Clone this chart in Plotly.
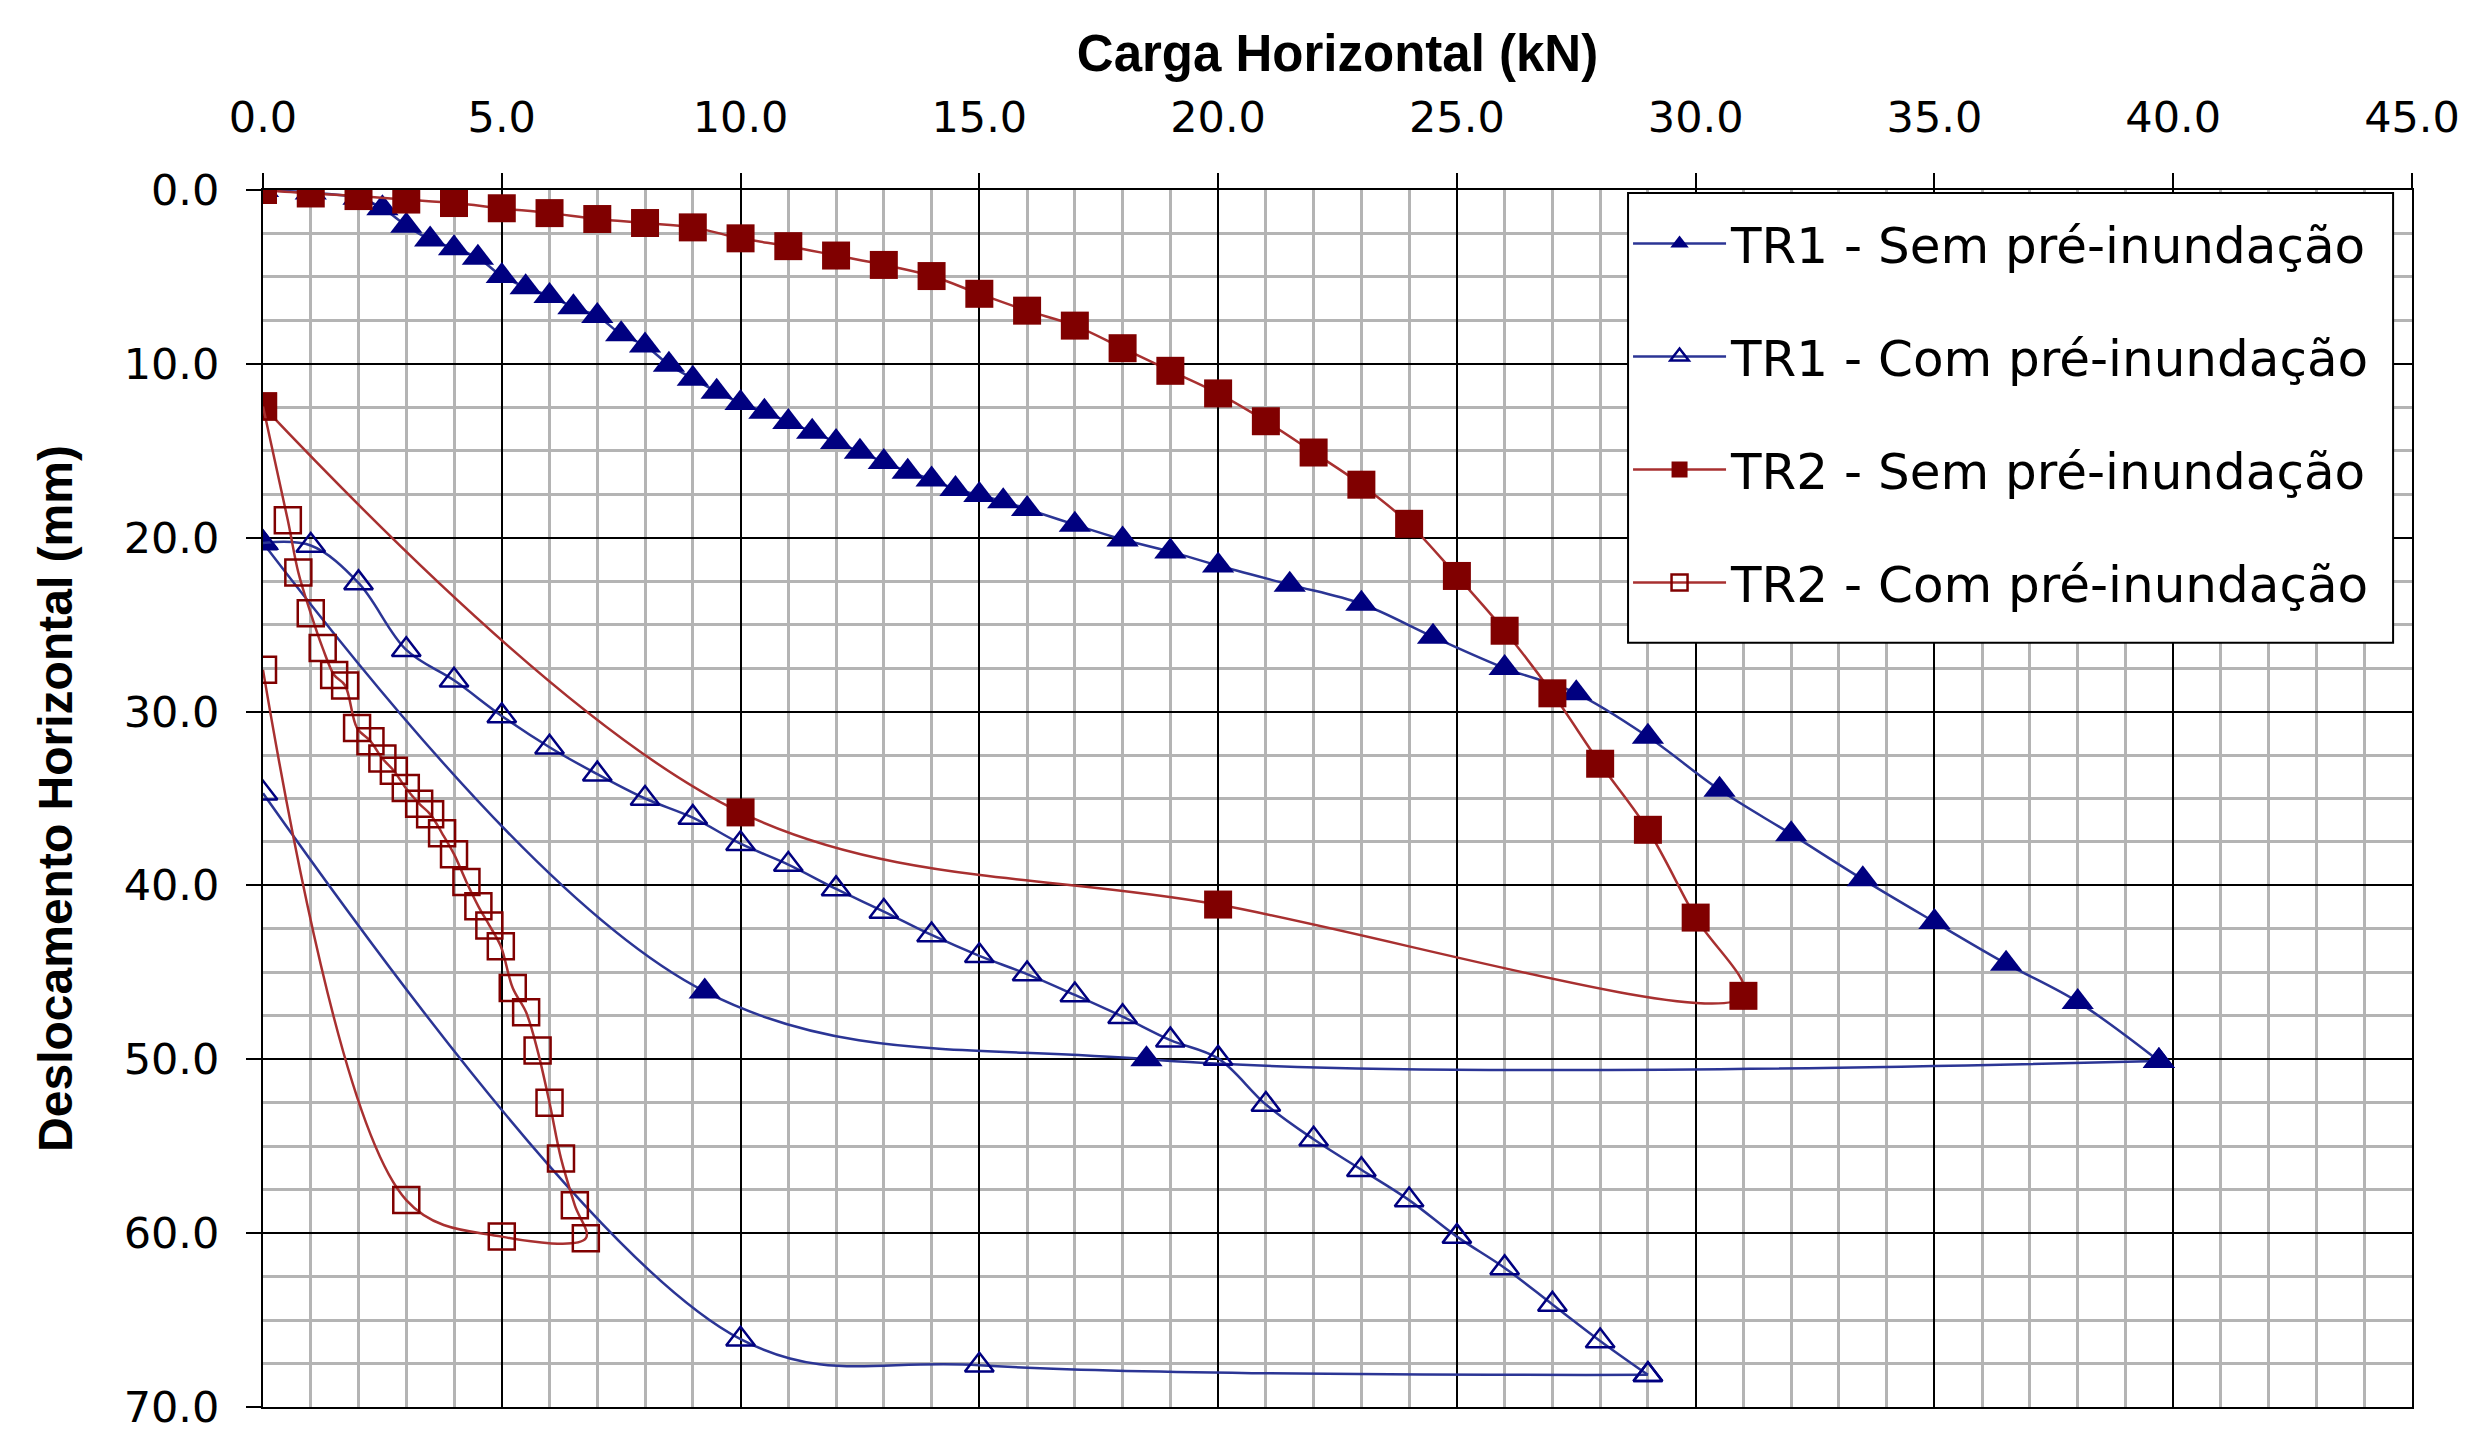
import plotly.graph_objects as go

# ---------------- data ----------------
tr1_sem_x = [0, 1, 2, 2.5, 3, 3.5, 4, 4.5, 5, 5.5, 6, 6.5, 7, 7.5, 8, 8.5, 9, 9.5, 10,
             10.5, 11, 11.5, 12, 12.5, 13, 13.5, 14, 14.5, 15, 15.5, 16, 17, 18, 19, 20,
             21.5, 23, 24.5, 26, 27.5, 29, 30.5, 32, 33.5, 35, 36.5, 38, 39.7,
             18.5, 9.25, 0]
tr1_sem_y = [0, 0.15, 0.45, 1.05, 2.05, 2.85, 3.35, 3.9, 4.95, 5.6, 6.1, 6.75, 7.25, 8.3, 8.95, 10.05, 10.85, 11.6, 12.25,
             12.75, 13.35, 13.9, 14.5, 15.05, 15.65, 16.2, 16.65, 17.2, 17.55, 17.9, 18.35, 19.25, 20.1, 20.8, 21.6,
             22.7, 23.8, 25.7, 27.5, 28.95, 31.45, 34.5, 37.05, 39.65, 42.1, 44.5, 46.7, 50.1,
             50.0, 46.1, 20.3]

tr1_com_x = [0, 1, 2, 3, 4, 5, 6, 7, 8, 9, 10, 11, 12, 13, 14, 15, 16, 17, 18, 19, 20,
             21, 22, 23, 24, 25, 26, 27, 28, 29, 15, 10, 0]
tr1_com_y = [20.3, 20.45, 22.6, 26.45, 28.2, 30.25, 32.05, 33.6, 35.0, 36.1, 37.6, 38.8, 40.2, 41.5, 42.85,
             44.05, 45.1, 46.3, 47.55, 48.9, 49.95, 52.6, 54.6, 56.35, 58.1, 60.2, 62.0, 64.1, 66.2, 68.15,
             67.6, 66.1, 34.7]

tr2_sem_x = [0, 1, 2, 3, 4, 5, 6, 7, 8, 9, 10, 11, 12, 13, 14, 15, 16, 17, 18, 19, 20,
             21, 22, 23, 24, 25, 26, 27, 28, 29, 30, 31, 20, 10, 0]
tr2_sem_y = [0.0, 0.2, 0.35, 0.55, 0.75, 1.05, 1.33, 1.67, 1.9, 2.15, 2.78, 3.23, 3.77, 4.31, 4.95, 5.97,
             6.94, 7.8, 9.1, 10.4, 11.7, 13.3, 15.1, 16.95, 19.2, 22.2, 25.35, 28.95, 33.0, 36.8, 41.85,
             46.35, 41.1, 35.8, 12.45]

tr2_com_x = [0, 0.52, 0.74, 1.0, 1.25, 1.49, 1.72, 1.97, 2.25, 2.5, 2.74, 2.99, 3.27, 3.5, 3.75, 4.0,
             4.26, 4.51, 4.74, 4.98, 5.23, 5.51, 5.75, 6.0, 6.24, 6.53, 6.76, 5.0, 3.0, 0]
tr2_com_y = [12.45, 19.0, 22.0, 24.35, 26.35, 27.9, 28.5, 30.95, 31.7, 32.7, 33.4, 34.4, 35.3, 35.9, 37.0,
             38.2, 39.8, 41.2, 42.3, 43.5, 45.9, 47.3, 49.5, 52.5, 55.7, 58.4, 60.3, 60.2, 58.1, 27.6]

series_names = ["TR1 - Sem pré-inundação", "TR1 - Com pré-inundação",
                "TR2 - Sem pré-inundação", "TR2 - Com pré-inundação"]

x_title = "Carga Horizontal (kN)"
y_title = "Deslocamento Horizontal (mm)"

# ---------------- styling ----------------
NAVY = "#000080"
NAVY_LINE = "#2b3595"
MAROON = "#800000"
MAROON_LINE = "#a83030"

TICK_FONT = dict(family="DejaVu Sans", size=43, color="black")


def peak_index(xs):
    """index of the maximum load (turning point between loading and unloading)"""
    return max(range(len(xs)), key=lambda i: xs[i])


fig = go.Figure()

specs = [
    (tr1_sem_x, tr1_sem_y, series_names[0], NAVY_LINE,
     dict(symbol="triangle-up", size=28, color=NAVY, line=dict(width=0)), True),
    (tr1_com_x, tr1_com_y, series_names[1], NAVY_LINE,
     dict(symbol="triangle-up-open", size=25, color=NAVY, line=dict(width=2.5, color=NAVY)), True),
    (tr2_sem_x, tr2_sem_y, series_names[2], MAROON_LINE,
     dict(symbol="square", size=28, color=MAROON, line=dict(width=0)), False),
    (tr2_com_x, tr2_com_y, series_names[3], MAROON_LINE,
     dict(symbol="square-open", size=26, color=MAROON, line=dict(width=2.5, color=MAROON)), False),
]

for i, (xs, ys, name, lcol, mk, split) in enumerate(specs):
    line = dict(color=lcol, width=2.5, shape="spline", smoothing=1.0)
    if split:
        # loading branch and unloading branch smoothed separately (share the peak point)
        k = peak_index(xs)
        parts = [(xs[:k + 1], ys[:k + 1], True), (xs[k:], ys[k:], False)]
    else:
        parts = [(xs, ys, True)]
    for px, py, show in parts:
        fig.add_trace(go.Scatter(
            x=px, y=py, name=name, mode="lines+markers",
            line=line, marker=mk, legendgroup=f"g{i}", showlegend=show,
        ))

# legend frame (white box over the grid, as in the reference)
fig.add_shape(type="rect", xref="paper", yref="paper",
              x0=0.6352, x1=0.9912, y0=0.628, y1=0.9976,
              fillcolor="white", line=dict(color="black", width=2), layer="above")

fig.update_layout(
    width=2479, height=1435,
    paper_bgcolor="white", plot_bgcolor="white",
    margin=dict(l=263, r=67, t=190, b=28, autoexpand=False),
    showlegend=True,
    legend=dict(
        x=0.6352, y=0.988, xanchor="left", yanchor="top",
        bgcolor="rgba(0,0,0,0)", borderwidth=0,
        font=dict(family="DejaVu Sans", size=50, color="black"),
        tracegroupgap=45, itemwidth=93,
    ),
    xaxis=dict(
        range=[0, 45], side="top", dtick=5, tick0=0, tickformat=".1f",
        showgrid=True, gridcolor="black", gridwidth=2,
        minor=dict(dtick=1, showgrid=True, gridcolor="#b4b4b4", gridwidth=3),
        ticks="outside", ticklen=15, tickwidth=2, tickcolor="black",
        ticklabelstandoff=24, ticklabeloverflow="allow",
        showline=True, linecolor="black", linewidth=2, mirror=True,
        zeroline=False, tickfont=TICK_FONT,
        title=dict(text="<b>" + x_title + "</b>",
                   font=dict(family="Liberation Sans", size=51, color="black"), standoff=4),
    ),
    yaxis=dict(
        range=[70, 0], dtick=10, tick0=0, tickformat=".1f",
        showgrid=True, gridcolor="black", gridwidth=2,
        minor=dict(dtick=2.5, showgrid=True, gridcolor="#b4b4b4", gridwidth=3),
        ticks="outside", ticklen=15, tickwidth=2, tickcolor="black",
        ticklabelstandoff=18, ticklabeloverflow="allow",
        showline=True, linecolor="black", linewidth=2, mirror=True,
        zeroline=False, tickfont=TICK_FONT,
        title=dict(text="<b>" + y_title + "</b>",
                   font=dict(family="Liberation Sans", size=48, color="black"), standoff=36),
    ),
)

# the page body has a default 8px margin; remove it so the figure fills the window exactly
fig.write_html("out.html", config={"displayModeBar": False},
               post_script="document.body.style.margin='0px';")
